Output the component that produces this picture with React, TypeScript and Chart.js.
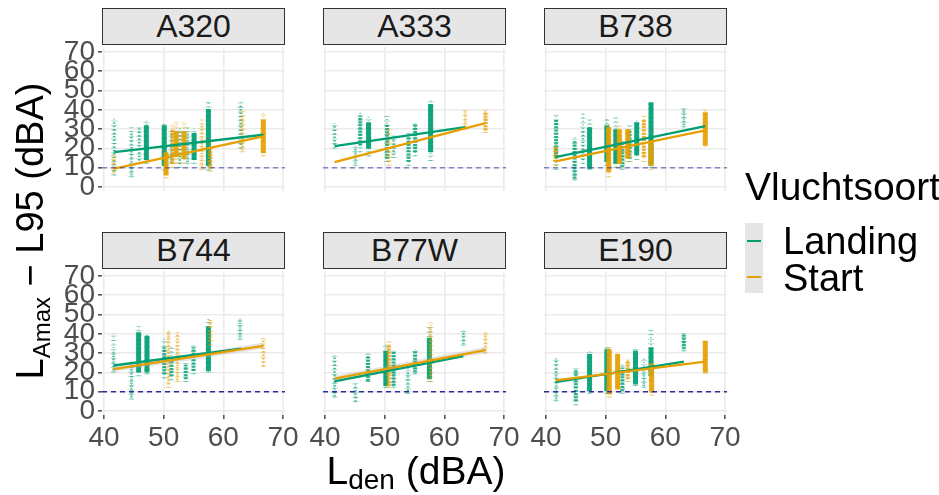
import { useEffect, useRef } from 'react';
import { Chart, registerables } from 'chart.js';

Chart.register(...registerables);

// [x, coreLo, coreHi, tailLo, tailHi, density(0 sparse,1 medium,2 dense)]
type Strip = [number, number, number, number, number, number];
type Fit = [[number, number], [number, number]];

const panelNames = ['A320', 'A333', 'B738', 'B744', 'B77W', 'E190'];
const xTicks = [40, 50, 60, 70];
const yTicks = [0, 10, 20, 30, 40, 50, 60, 70];
const threshold = 10;
const seriesNames = ['Landing', 'Start'];

const a320Landing: Strip[] = [
  [41.7, 8, 33, 6, 36, 0], [44.6, 6, 29, 5, 31, 0], [45.9, 12, 31, 12, 31, 0],
  [47.1, 14, 32, 12, 34.5, 2], [50.1, 11, 32, 8.5, 33, 2], [51.3, 13, 28, 12, 30, 0],
  [52.7, 12, 29, 10, 31, 0], [54.0, 13, 29, 12, 31, 0], [55.1, 14, 28, 12, 30.5, 2],
  [57.5, 11, 40.5, 8.5, 45, 2], [62.9, 22, 43, 20, 44, 0],
];
const a320Start: Strip[] = [
  [41.6, 8, 15.5, 7, 17, 0], [50.4, 6, 18, 4.5, 19, 2], [51.5, 12, 30, 10, 33, 1],
  [52.1, 15.5, 29, 12, 34, 2], [53.4, 14.5, 29, 12, 33.5, 2], [56.4, 10, 33, 9, 35, 0],
  [57.8, 9.5, 21, 8, 24, 1], [63.2, 19, 38, 18, 40, 0], [66.7, 17.5, 35, 16, 39, 2],
];
const a333Landing: Strip[] = [
  [41.6, 22, 32, 20, 33, 0], [45.1, 12, 21, 11, 22, 0], [45.9, 21.5, 37, 18, 39, 1],
  [47.3, 19.8, 33.6, 16, 37, 2], [50.4, 14.6, 32.7, 13, 37, 1], [51.5, 16.4, 25, 15, 27, 0],
  [54.0, 13, 26, 11, 28, 1], [55.1, 18, 32.7, 16, 34, 1], [57.7, 18, 43, 13.5, 45, 2],
];
const a333Start: Strip[] = [
  [50.7, 13, 29, 11, 31, 0], [63.5, 31, 39, 30, 40, 0], [66.9, 29.3, 38.8, 28, 40, 1],
];
const b738Landing: Strip[] = [
  [41.7, 15.5, 35.3, 9, 38, 1], [44.8, 4.3, 24, 3.5, 26, 1], [46.2, 14, 30, 12, 38, 0],
  [47.3, 9.5, 31, 9, 35, 2], [50.2, 13, 31.9, 11, 36, 2], [51.7, 12, 30, 10, 36, 2],
  [52.8, 10.3, 22.4, 9, 25, 1], [54.0, 14.7, 29.3, 13, 32, 1], [55.2, 16.4, 33.6, 14, 35, 2],
  [57.6, 11.2, 44, 10, 44.5, 2], [63.1, 32, 40.5, 31, 41, 0],
];
const b738Start: Strip[] = [
  [41.6, 13, 20.7, 11, 22, 1], [50.5, 7.8, 31, 5, 33, 2], [52.3, 12, 30, 10, 32, 2],
  [53.7, 14.7, 30, 13, 31, 2], [56.4, 15.5, 35.3, 13, 37, 1], [57.6, 11, 24, 9, 25, 2],
  [66.7, 21.5, 38.8, 21, 40, 2],
];
const b744Landing: Strip[] = [
  [41.6, 21, 31, 20, 40, 0], [44.6, 7, 24, 6, 26, 0], [45.8, 20, 40.8, 18, 44, 2],
  [47.2, 20, 39, 19, 40, 2], [50.1, 19, 33, 17, 38, 1], [51.3, 18, 26, 16, 33, 1],
  [53.7, 16.4, 24, 15, 26, 1], [55.0, 20.8, 33, 19, 34, 1], [57.5, 20.8, 44, 20, 48, 2],
  [62.8, 38, 47.7, 37, 48, 0],
];
const b744Start: Strip[] = [
  [50.8, 13.8, 41.6, 12, 42, 0], [52.3, 16, 40, 15, 41, 0], [57.8, 36, 47.7, 34, 48, 0],
  [66.7, 23.4, 37.3, 23, 38, 0],
];
const b77wLanding: Strip[] = [
  [41.6, 7.7, 27.7, 7, 29, 0], [45.1, 5, 13.8, 4.5, 15, 0], [47.2, 15.6, 28.6, 15, 30, 1],
  [50.2, 13, 31.2, 12, 34.7, 2], [51.5, 13, 31.2, 12, 32, 1], [53.9, 10.3, 20.8, 9, 24, 0],
  [55.1, 20, 31.2, 19, 32, 1], [57.5, 16.4, 38, 15, 44, 2], [63.2, 34.7, 41.6, 34, 42, 0],
];
const b77wStart: Strip[] = [
  [50.7, 13, 34.7, 12, 36, 1], [57.7, 16.4, 44, 15, 46, 0], [66.9, 31.2, 40.8, 30, 41, 0],
];
const e190Landing: Strip[] = [
  [41.7, 6, 26.9, 5, 28, 0], [45.0, 5, 21.6, 3, 23, 1], [47.3, 10.3, 29.5, 9, 31, 2],
  [50.2, 10.3, 32, 9, 33, 2], [52.8, 10.3, 22.5, 9, 24, 1], [55.0, 13.8, 31.2, 13, 33, 2],
  [56.4, 13, 23, 12, 28, 0], [57.6, 18.2, 33, 16, 43, 2], [63.1, 32, 40, 31, 40.5, 1],
];
const e190Start: Strip[] = [
  [50.6, 8.6, 32, 7, 34, 2], [52.0, 11.2, 29.5, 10, 31, 2], [53.7, 16.4, 26, 15, 27, 1],
  [57.7, 9.5, 24.3, 8, 26, 2], [66.7, 20, 36.4, 19.5, 37, 2],
];

const landingStrips = [a320Landing, a333Landing, b738Landing, b744Landing, b77wLanding, e190Landing];
const startStrips = [a320Start, a333Start, b738Start, b744Start, b77wStart, e190Start];

const landingFit: Fit[] = [
  [[41.7, 18.1], [66.7, 27.1]], [[41.6, 21.2], [63.5, 31]], [[41.6, 15.5], [66.7, 31.6]],
  [[41.6, 23.6], [63, 32.3]], [[41.6, 15.4], [63.2, 28.5]], [[41.6, 15], [63.1, 25.6]],
];
const startFit: Fit[] = [
  [[41.7, 9.5], [66.7, 26.2]], [[41.6, 12.9], [66.9, 33.1]], [[41.6, 13.3], [66.7, 29.3]],
  [[41.6, 21.7], [66.7, 33.8]], [[41.6, 16.8], [66.9, 31.6]], [[41.6, 15.9], [66.7, 25.6]],
];
const ribbonPanels = [false, false, false, true, true, false];

const GREEN = (a: number) => `rgba(0,158,115,${a})`;
const ORANGE = (a: number) => `rgba(230,159,0,${a})`;
const FONT = '"Liberation Sans", Arial, sans-serif';

// layout geometry (pixels)
const colLeft = [102, 323, 544];
const rowTop = [47, 271];
const plotW = 183;
const plotH = 144;

function segs(strips: Strip[], lo: number, hi: number, keep: (s: Strip) => boolean) {
  const out: { x: number; y: number | null }[] = [];
  strips.filter(keep).forEach((s) => {
    out.push({ x: s[0], y: s[lo] }, { x: s[0], y: s[hi] }, { x: s[0], y: null });
  });
  return out;
}

function stripDatasets(strips: Strip[], col: (a: number) => string, base: number) {
  const common = { showLine: true, pointRadius: 0, spanGaps: false, fill: false };
  return [
    { ...common, data: segs(strips, 3, 4, () => true), borderColor: col(0.35), borderWidth: 6, borderDash: [1, 3.5], order: base + 5 },
    { ...common, data: segs(strips, 3, 4, () => true), borderColor: col(0.55), borderWidth: 2, borderDash: [1, 2.5], order: base + 4 },
    { ...common, data: segs(strips, 1, 2, (s) => s[5] === 0), borderColor: col(0.6), borderWidth: 3, borderDash: [1.2, 2.2], order: base + 3 },
    { ...common, data: segs(strips, 1, 2, (s) => s[5] === 1), borderColor: col(0.8), borderWidth: 4, borderDash: [2, 1.2], order: base + 2 },
    { ...common, data: segs(strips, 1, 2, (s) => s[5] === 2), borderColor: col(0.92), borderWidth: 5, order: base + 1 },
  ];
}

function Panel({ idx }: { idx: number }) {
  const ref = useRef<HTMLCanvasElement | null>(null);
  const col = idx % 3;
  const row = Math.floor(idx / 3);
  const isLeft = col === 0;
  const isBottom = row === 1;
  const yAxisW = isLeft ? 62 : 0;
  const xAxisH = isBottom ? 45 : 0;
  const padL = isLeft ? 82 : 22;
  const padR = 22;
  const padT = 20;
  const padB = isBottom ? 45 : 20;
  const cw = plotW + padL + padR;
  const ch = plotH + padT + padB;
  const left = colLeft[col] - padL;
  const top = rowTop[row] - padT;

  const xPx = (plotW - 4) / 30;
  const xMin = 40 - 2 / xPx;
  const xMax = 70 + 2 / xPx;
  const yPx = 135 / 70;
  const yMax = 70 + 5 / yPx;
  const yMin = -(plotH - 140) / yPx;

  useEffect(() => {
    if (!ref.current) return;
    const lf = landingFit[idx];
    const sf = startFit[idx];
    const lineCommon = { showLine: true, pointRadius: 0, fill: false };
    const datasets: any[] = [
      ...stripDatasets(landingStrips[idx], GREEN, 20),
      ...stripDatasets(startStrips[idx], ORANGE, 10),
    ];
    if (ribbonPanels[idx]) {
      datasets.push({ ...lineCommon, data: sf.map(([x, y]) => ({ x, y })), borderColor: 'rgba(170,170,170,0.3)', borderWidth: 6, order: 4 });
    }
    datasets.push(
      { ...lineCommon, data: lf.map(([x, y]) => ({ x, y })), borderColor: GREEN(1), borderWidth: 2.3, order: 3 },
      { ...lineCommon, data: sf.map(([x, y]) => ({ x, y })), borderColor: ORANGE(1), borderWidth: 2.3, order: 2 },
      {
        ...lineCommon,
        data: [{ x: xMin, y: threshold }, { x: xMax, y: threshold }],
        borderColor: isBottom ? '#2c2ca0' : 'rgba(60,60,160,0.6)',
        borderWidth: 1.6,
        borderDash: [5, 4],
        order: 1,
      }
    );
    const tickFont = { family: FONT, size: 28 };
    const chart = new Chart(ref.current, {
      type: 'scatter',
      data: { datasets },
      options: {
        animation: false,
        responsive: false,
        maintainAspectRatio: false,
        devicePixelRatio: 1,
        layout: { padding: { left: padL - yAxisW, right: padR, top: padT, bottom: padB - xAxisH } },
        plugins: { legend: { display: false }, tooltip: { enabled: false } },
        events: [],
        scales: {
          x: {
            type: 'linear',
            min: xMin,
            max: xMax,
            afterBuildTicks: (ax: any) => { ax.ticks = xTicks.map((v) => ({ value: v })); },
            afterFit: (s: any) => { s.height = xAxisH; },
            ticks: { display: isBottom, font: tickFont, color: '#4d4d4d', padding: 2, autoSkip: false, maxRotation: 0 },
            grid: { color: '#ebebeb', lineWidth: 1.6, drawTicks: isBottom, tickLength: 4, tickColor: '#555' },
            border: { display: false },
          },
          y: {
            type: 'linear',
            min: yMin,
            max: yMax,
            afterBuildTicks: (ax: any) => { ax.ticks = yTicks.map((v) => ({ value: v })); },
            afterFit: (s: any) => { s.width = yAxisW; },
            ticks: { display: isLeft, font: tickFont, color: '#4d4d4d', padding: 3, autoSkip: false },
            grid: { color: '#ebebeb', lineWidth: 1.6, drawTicks: isLeft, tickLength: 4, tickColor: '#555' },
            border: { display: false },
          },
        },
      },
    } as any);
    return () => chart.destroy();
  }, [idx]);

  return (
    <>
      <div
        style={{
          position: 'absolute',
          left: colLeft[col],
          top: rowTop[row] - 39,
          width: plotW - 2,
          height: 35,
          background: '#e6e6e6',
          border: '1px solid #333',
          display: 'flex',
          alignItems: 'center',
          justifyContent: 'center',
          fontFamily: FONT,
          fontSize: 32,
          color: '#1a1a1a',
        }}
      >
        {panelNames[idx]}
      </div>
      <canvas ref={ref} width={cw} height={ch} style={{ position: 'absolute', left, top, width: cw, height: ch }} />
    </>
  );
}

export default function App() {
  const txt = (fs: number): React.CSSProperties => ({ fontFamily: FONT, fontSize: fs, lineHeight: `${fs}px`, color: '#000', whiteSpace: 'nowrap' });
  return (
    <div style={{ position: 'absolute', left: 0, top: 0, width: 939, height: 495, background: '#fff', overflow: 'hidden' }}>
      {panelNames.map((_, i) => (
        <Panel key={i} idx={i} />
      ))}
      {/* y axis title */}
      <div
        style={{
          ...txt(38),
          position: 'absolute',
          left: 30 - 200,
          top: 231 - 19,
          width: 400,
          height: 38,
          textAlign: 'center',
          transform: 'rotate(-90deg)',
        }}
      >
        L<span style={{ fontSize: 24, position: 'relative', top: 7 }}>Amax</span> − L95 (dBA)
      </div>
      {/* x axis title */}
      <div style={{ ...txt(39), position: 'absolute', left: 416 - 150, top: 484 - 33, width: 300, textAlign: 'center' }}>
        L<span style={{ fontSize: 28, position: 'relative', top: 5 }}>den</span> (dBA)
      </div>
      {/* legend */}
      <div style={{ ...txt(39), position: 'absolute', left: 745, top: 200 - 33 }}>Vluchtsoort</div>
      <div style={{ position: 'absolute', left: 745, top: 223, width: 18, height: 70, background: '#e5e5e5' }} />
      <div style={{ position: 'absolute', left: 747, top: 240, width: 14, height: 2, background: GREEN(1) }} />
      <div style={{ position: 'absolute', left: 747, top: 276, width: 14, height: 2, background: ORANGE(1) }} />
      <div style={{ ...txt(38), position: 'absolute', left: 783, top: 254 - 32 }}>{seriesNames[0]}</div>
      <div style={{ ...txt(38), position: 'absolute', left: 783, top: 291 - 32 }}>{seriesNames[1]}</div>
    </div>
  );
}
